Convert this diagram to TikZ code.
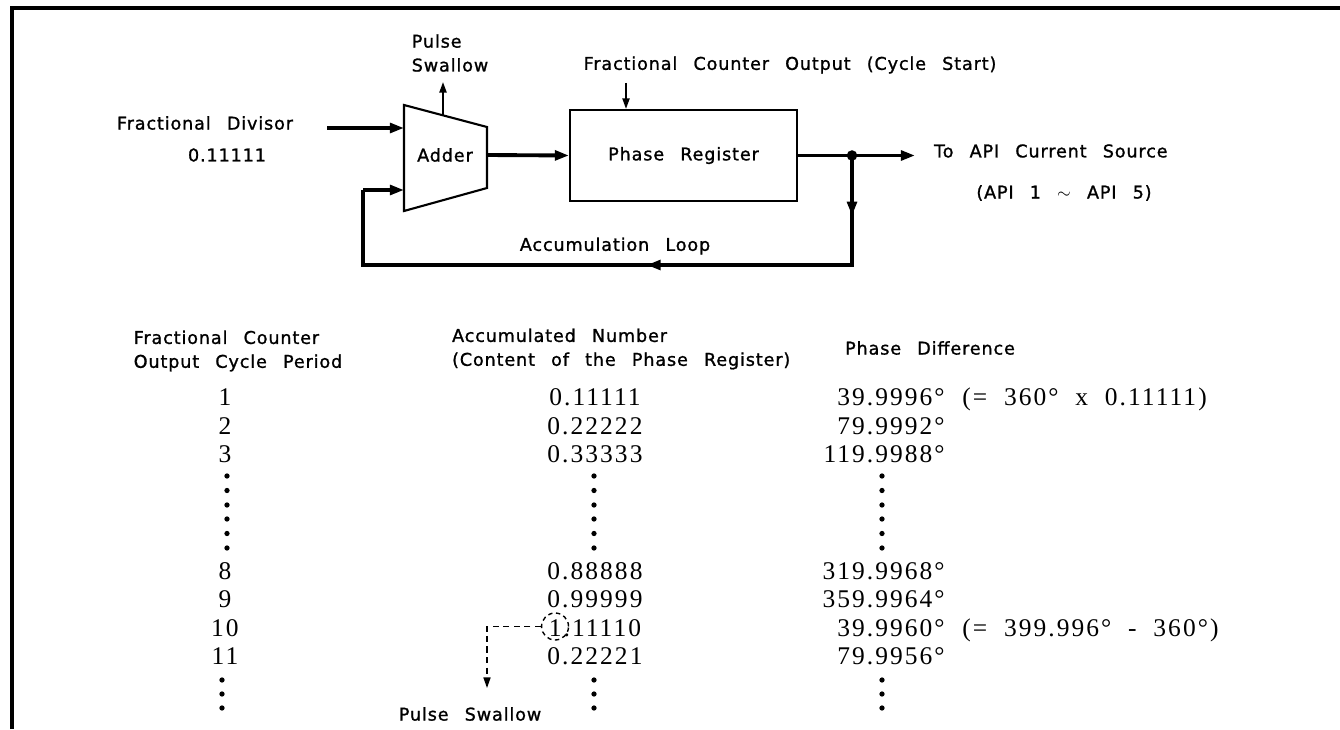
\documentclass[tikz,border=0pt]{standalone}
\usepackage{fontspec}
\usepackage{tikz}
\usetikzlibrary{arrows.meta, positioning, calc}
\newfontfamily\lettering[LetterSpace=5,WordSpace=2.5,FakeBold=1.2]{DejaVu Sans}
\newfontfamily\numfont[LetterSpace=8,WordSpace=2]{Liberation Serif}

\begin{document}
\begin{tikzpicture}[
  lab/.style={font=\lettering\fontsize{10}{13.6}\selectfont, inner sep=1pt},
  num/.style={font=\numfont\fontsize{14.5}{16}\selectfont, inner sep=0pt, anchor=mid},
  box/.style={draw, line width=1.2pt, font=\lettering\fontsize{10}{13.6}\selectfont,
              minimum width=4.54cm, minimum height=1.82cm},
  wire/.style={line width=2.2pt},
  arr/.style={-{Triangle[length=8pt,width=5.5pt]}, line width=2.2pt},
  tarr/.style={-{Triangle[length=6pt,width=4pt]}, line width=1.1pt},
  darr/.style={-{Triangle[length=6pt,width=4pt]}, dash pattern=on 3.5pt off 2.5pt, line width=0.8pt},
]
\useasboundingbox (0,0) rectangle (26.8,-14.58);

% FRAME
\draw[line width=1.8pt] (0.24,-14.58) -- (0.24,-0.16) -- (26.8,-0.16);

% ADDER
\coordinate (atl) at (8.08,-2.1);
\coordinate (abl) at (8.08,-4.22);
\coordinate (atr) at (9.74,-2.54);
\coordinate (abr) at (9.74,-3.76);
\draw[line width=1.2pt] (atl) -- (atr) -- (abr) -- (abl) -- cycle;
\node[lab] (adder) at (8.9,-3.1) {Adder};
\coordinate (aout) at (9.74,-3.1);

\node[lab] (divl) at (4.1,-2.46) {Fractional Divisor};
\node[lab] (divv) at (4.54,-3.1) {0.11111};
\coordinate (din) at (6.54,-2.56);
\draw[arr] (din) -- (din -| atl);

\node[lab, align=left] (psw) at (9.0,-1.06) {Pulse\\Swallow};
\coordinate (ptop) at (8.86,-2.31);
\coordinate (ptip) at (8.86,-1.64);
\draw[tarr] (ptop) -- (ptip);

% PHASE REGISTER
\node[box] (preg) at (13.67,-3.11) {Phase Register};
\draw[arr] (aout) -- (preg.west);
\node[lab] (cnt) at (15.8,-1.3) {Fractional Counter Output (Cycle Start)};
\coordinate (ctop) at (12.52,-1.66);
\draw[tarr] (ctop) -- (ctop |- preg.north);

\coordinate (jn) at (17.04,-3.11);
\coordinate (oend) at (18.3,-3.11);
\draw[arr] (preg.east) -- (oend);
\fill (jn) circle (3pt);
\node[lab, anchor=west] (api) at (18.64,-3.02) {To API Current Source};
\node[lab] (apir) at (21.28,-3.86) {(API 1 $\sim$ API 5)};

% ACCUMULATION LOOP
\coordinate (lr) at (17.04,-5.3);
\coordinate (ll) at (7.26,-5.3);
\coordinate (lt) at (7.26,-3.8);
\coordinate (fin) at (8.08,-3.8);
\draw[wire] (jn) -- (lr) -- (ll) -- (lt);
\draw[arr] (lt) -- (fin);
\draw[arr] (jn) -- ($(jn)!0.55!(lr)$);
\draw[arr] (lr) -- ($(lr)!0.42!(ll)$);
\node[lab] (accl) at (12.3,-4.92) {Accumulation Loop};

% TABLE
\node[lab, align=left] (h1) at (4.76,-7.02) {Fractional Counter\\Output Cycle Period};
\node[lab, align=left, anchor=west] (h2) at (9.0,-6.98) {Accumulated Number\\(Content of the Phase Register)};
\node[lab] (h3) at (18.6,-6.96) {Phase Difference};

\foreach \y/\n/\a/\p in {-8.04/1/0.11111/39.9996°, -8.62/2/0.22222/79.9992°,
    -9.18/3/0.33333/119.9988°, -11.52/8/0.88888/319.9968°, -12.08/9/0.99999/359.9964°,
    -12.66/10/1.11110/39.9960°, -13.22/11/0.22221/79.9956°} {
  \node[num] (c\n) at (4.5,\y) {\n};
  \node[num] (a\n) at (11.9,\y) {\a};
  \node[num, anchor=mid east] (p\n) at (18.9,\y) {\p};
}
\node[num, anchor=mid west] (e1) at (19.24,-8.04) {(= 360° x 0.11111)};
\node[num, anchor=mid west] (e10) at (19.24,-12.66) {(= 399.996° - 360°)};

\foreach \y in {-9.52,-9.81,-10.1,-10.38,-10.67,-10.96} {
  \fill (4.54,\y) circle (1.5pt);
  \fill (11.88,\y) circle (1.5pt);
  \fill (17.64,\y) circle (1.5pt);
}
\foreach \y in {-13.6,-13.88,-14.16} {
  \fill (4.44,\y) circle (1.5pt);
  \fill (11.88,\y) circle (1.5pt);
  \fill (17.64,\y) circle (1.5pt);
}

% PULSE SWALLOW (carry)
\node[draw, circle, dash pattern=on 2.5pt off 2pt, line width=0.8pt,
      minimum size=0.54cm, inner sep=0pt] (swc) at ([xshift=0.13cm,yshift=0.04cm]a10.west) {};
\node[lab] (psl) at (9.4,-14.28) {Pulse Swallow};
\coordinate (swk) at (9.74,-13.76);
\draw[darr] (swc.west) -| (swk);

\end{tikzpicture}
\end{document}
